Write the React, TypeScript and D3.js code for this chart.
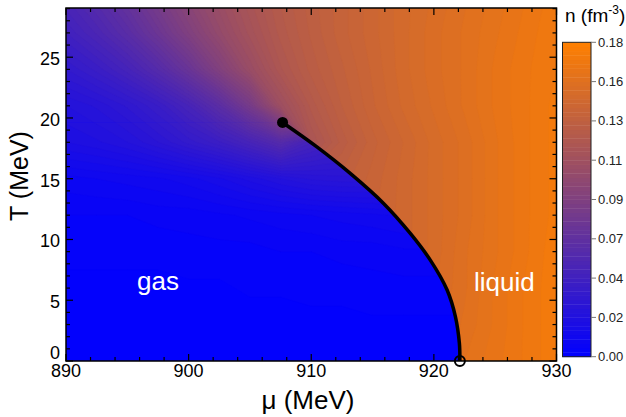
import { useEffect, useRef } from "react";
import * as d3 from "d3";

// axis ticks
const muMajor = [890, 900, 910, 920, 930];
const tMajor = [0, 5, 10, 15, 20, 25];

// colour bar
const cbTicks = [0, 0.0225, 0.045, 0.0675, 0.09, 0.1125, 0.135, 0.1575, 0.18];
const cbLabels = ["0.00", "0.02", "0.04", "0.07", "0.09", "0.11", "0.13", "0.16", "0.18"];

// liquid-gas coexistence line (mu, T), from T = 0 up to the critical point
const coexMu = [922.12, 922.08, 921.76, 921.08, 919.71, 918.08, 915.9, 913.18, 910.46, 907.66];
const coexT = [0, 1.46, 3.64, 5.84, 8.3, 10.5, 12.97, 15.44, 17.62, 19.63];

// density n (fm^-3), grid columns = mu, rows = T
const muGrid = [890, 892.5, 895, 897.5, 900, 902.5, 905, 907.5, 910, 912.5, 915, 917.5, 920, 922.5, 925, 927.5, 930];

// liquid / supercritical side
const tL = [0, 3, 6, 9, 12, 15, 18, 21, 24, 27, 30];
const nL = [
  [0.125, 0.127, 0.129, 0.131, 0.133, 0.135, 0.137, 0.139, 0.141, 0.144, 0.147, 0.151, 0.156, 0.16, 0.164, 0.168, 0.172],
  [0.124, 0.126, 0.128, 0.13, 0.132, 0.134, 0.136, 0.138, 0.14, 0.143, 0.146, 0.15, 0.154, 0.158, 0.163, 0.168, 0.172],
  [0.122, 0.124, 0.126, 0.128, 0.13, 0.132, 0.134, 0.136, 0.138, 0.141, 0.144, 0.148, 0.152, 0.157, 0.163, 0.168, 0.172],
  [0.12, 0.122, 0.124, 0.126, 0.128, 0.13, 0.132, 0.134, 0.136, 0.139, 0.142, 0.146, 0.151, 0.157, 0.162, 0.167, 0.172],
  [0.112, 0.115, 0.118, 0.121, 0.124, 0.127, 0.13, 0.133, 0.136, 0.139, 0.142, 0.146, 0.151, 0.156, 0.162, 0.167, 0.171],
  [0.1, 0.104, 0.108, 0.112, 0.116, 0.12, 0.124, 0.128, 0.132, 0.136, 0.141, 0.146, 0.151, 0.156, 0.162, 0.167, 0.171],
  [0.02, 0.022, 0.025, 0.03, 0.036, 0.042, 0.05, 0.06, 0.12, 0.131, 0.139, 0.145, 0.151, 0.156, 0.162, 0.167, 0.171],
  [0.025, 0.028, 0.033, 0.04, 0.05, 0.064, 0.083, 0.111, 0.126, 0.135, 0.142, 0.148, 0.153, 0.158, 0.163, 0.167, 0.171],
  [0.035, 0.041, 0.049, 0.06, 0.074, 0.091, 0.108, 0.122, 0.131, 0.137, 0.143, 0.149, 0.154, 0.158, 0.163, 0.167, 0.17],
  [0.045, 0.053, 0.063, 0.076, 0.09, 0.104, 0.116, 0.126, 0.133, 0.139, 0.144, 0.149, 0.154, 0.158, 0.162, 0.166, 0.17],
  [0.053, 0.062, 0.073, 0.086, 0.099, 0.11, 0.12, 0.128, 0.134, 0.139, 0.144, 0.149, 0.153, 0.157, 0.161, 0.165, 0.169],
];

// gas side (rows at 18 and 21 match the supercritical values above the line)
const tG = [0, 3, 6, 9, 12, 15, 18, 21];
const nG = [
  [0, 0, 0, 0, 0, 0, 0, 0, 0, 0, 0, 0, 0, 0, 0, 0, 0],
  [0.001, 0.001, 0.001, 0.001, 0.001, 0.001, 0.001, 0.001, 0.002, 0.002, 0.002, 0.002, 0.002, 0.002, 0.002, 0.002, 0.002],
  [0.002, 0.002, 0.002, 0.002, 0.002, 0.002, 0.003, 0.003, 0.003, 0.003, 0.004, 0.004, 0.004, 0.004, 0.004, 0.004, 0.004],
  [0.003, 0.003, 0.003, 0.003, 0.004, 0.004, 0.004, 0.005, 0.005, 0.006, 0.006, 0.007, 0.007, 0.007, 0.007, 0.007, 0.007],
  [0.005, 0.005, 0.005, 0.006, 0.006, 0.007, 0.008, 0.009, 0.01, 0.011, 0.012, 0.013, 0.013, 0.013, 0.013, 0.013, 0.013],
  [0.009, 0.01, 0.011, 0.012, 0.014, 0.017, 0.021, 0.025, 0.028, 0.029, 0.029, 0.029, 0.029, 0.029, 0.029, 0.029, 0.029],
  [0.02, 0.022, 0.025, 0.03, 0.036, 0.042, 0.05, 0.06, 0.048, 0.042, 0.042, 0.042, 0.042, 0.042, 0.042, 0.042, 0.042],
  [0.025, 0.028, 0.033, 0.04, 0.05, 0.064, 0.083, 0.111, 0.126, 0.135, 0.142, 0.148, 0.153, 0.158, 0.163, 0.167, 0.171],
];

const W = 626;
const H = 417;
const left = 66;
const right = 556.5;
const top = 8;
const bottom = 361;
const font = "'Liberation Sans', Arial, Helvetica, sans-serif";

export default function App() {
  const ref = useRef<SVGSVGElement>(null);

  useEffect(() => {
    const svg = d3.select(ref.current);
    svg.selectAll("*").remove();

    const x = d3.scaleLinear().domain([890, 930]).range([left, right]);
    const y = d3.scaleLinear().domain([0, 29.05]).range([bottom, top]);

    const step = 0.0025;
    const levels = d3.range(0, 0.18, step);
    const color = d3
      .scaleLinear<string>()
      .domain([0, 0.18])
      .range(["#0000ff", "#ff8000"])
      .clamp(true);

    const defs = svg.append("defs");
    defs
      .append("clipPath")
      .attr("id", "plotClip")
      .append("rect")
      .attr("x", left)
      .attr("y", top)
      .attr("width", right - left)
      .attr("height", bottom - top);

    const line = d3
      .line<number>()
      .x((d, i) => x(coexMu[i]))
      .y((d, i) => y(coexT[i]))
      .curve(d3.curveCatmullRom.alpha(0.5));
    const coexPath = line(coexT) as string;
    const tc = coexT[coexT.length - 1];

    defs
      .append("clipPath")
      .attr("id", "gasClip")
      .append("path")
      .attr(
        "d",
        coexPath +
          `L${x(885)},${y(tc)}L${x(885)},${bottom + 10}L${x(coexMu[0])},${bottom + 10}Z`
      );

    function field(g, mus, ts, rows) {
      const nx = mus.length;
      const ny = ts.length;
      const dmu = mus[1] - mus[0];
      const dt = ts[1] - ts[0];
      const contours = d3.contours().size([nx, ny]).thresholds(levels)(rows.flat());
      const path = d3.geoPath(
        d3.geoTransform({
          point: function (px, py) {
            this.stream.point(x(mus[0] + (px - 0.5) * dmu), y(ts[0] + (py - 0.5) * dt));
          },
        })
      );
      g.selectAll("path")
        .data(contours)
        .join("path")
        .attr("d", path)
        .attr("fill", (d) => color(d.value + step / 2))
        .attr("stroke", (d) => color(d.value + step / 2))
        .attr("stroke-width", 0.3);
    }

    const plot = svg.append("g").attr("clip-path", "url(#plotClip)");
    field(plot.append("g"), muGrid, tL, nL);
    field(plot.append("g").attr("clip-path", "url(#gasClip)"), muGrid, tG, nG);

    // coexistence line and end points
    plot
      .append("path")
      .attr("d", coexPath)
      .attr("fill", "none")
      .attr("stroke", "#000")
      .attr("stroke-width", 3.5);
    svg
      .append("circle")
      .attr("cx", x(coexMu[coexMu.length - 1]))
      .attr("cy", y(tc))
      .attr("r", 5.5)
      .attr("fill", "#000");
    svg
      .append("circle")
      .attr("cx", x(coexMu[0]))
      .attr("cy", y(coexT[0]))
      .attr("r", 5)
      .attr("fill", "none")
      .attr("stroke", "#000")
      .attr("stroke-width", 2);

    // frame and inward ticks on all sides
    const ax = svg.append("g").attr("stroke", "#000").attr("stroke-width", 1.2);
    const muMinor = d3.range(890, 930.1, 2);
    const tMinor = d3.range(0, 29.1, 1);
    muMinor.forEach((m) => {
      const len = muMajor.includes(m) ? 7 : 4;
      ax.append("line").attr("x1", x(m)).attr("x2", x(m)).attr("y1", bottom).attr("y2", bottom - len);
      ax.append("line").attr("x1", x(m)).attr("x2", x(m)).attr("y1", top).attr("y2", top + len);
    });
    tMinor.forEach((t) => {
      const len = tMajor.includes(t) ? 7 : 4;
      ax.append("line").attr("x1", left).attr("x2", left + len).attr("y1", y(t)).attr("y2", y(t));
      ax.append("line").attr("x1", right).attr("x2", right - len).attr("y1", y(t)).attr("y2", y(t));
    });
    svg
      .append("rect")
      .attr("x", left)
      .attr("y", top)
      .attr("width", right - left)
      .attr("height", bottom - top)
      .attr("fill", "none")
      .attr("stroke", "#000")
      .attr("stroke-width", 1.5);

    const txt = svg.append("g").attr("font-family", font).attr("fill", "#000");
    muMajor.forEach((m) => {
      txt.append("text").attr("x", x(m)).attr("y", 377).attr("text-anchor", "middle").attr("font-size", 18).text(m);
    });
    tMajor.forEach((t) => {
      txt
        .append("text")
        .attr("x", 60)
        .attr("y", t === 0 ? y(t) - 2 : y(t) + 8)
        .attr("text-anchor", "end")
        .attr("font-size", 18)
        .text(t);
    });
    txt
      .append("text")
      .attr("x", 308)
      .attr("y", 409)
      .attr("text-anchor", "middle")
      .attr("font-size", 26)
      .text("μ (MeV)");
    txt
      .append("text")
      .attr("transform", "translate(28,176) rotate(-90)")
      .attr("text-anchor", "middle")
      .attr("font-size", 25)
      .text("T (MeV)");

    txt.append("text").attr("x", 137).attr("y", 290).attr("font-size", 26).attr("fill", "#fff").text("gas");
    txt.append("text").attr("x", 474).attr("y", 291).attr("font-size", 26).attr("fill", "#fff").text("liquid");

    // colour bar
    const cbL = 562.5;
    const cbR = 591;
    const cb = d3.scaleLinear().domain([0, 0.18]).range([356.7, 42.3]);
    const bar = svg.append("g");
    levels.forEach((lv) => {
      bar
        .append("rect")
        .attr("x", cbL)
        .attr("width", cbR - cbL)
        .attr("y", cb(lv + step))
        .attr("height", cb(lv) - cb(lv + step) + 0.4)
        .attr("fill", color(lv + step / 2));
    });
    bar
      .append("rect")
      .attr("x", cbL)
      .attr("y", cb(0.18))
      .attr("width", cbR - cbL)
      .attr("height", cb(0) - cb(0.18))
      .attr("fill", "none")
      .attr("stroke", "#222")
      .attr("stroke-width", 1);
    cbTicks.forEach((v, i) => {
      bar
        .append("line")
        .attr("x1", cbR)
        .attr("x2", cbR + 5)
        .attr("y1", cb(v))
        .attr("y2", cb(v))
        .attr("stroke", "#777")
        .attr("stroke-width", 1);
      txt
        .append("text")
        .attr("x", 598)
        .attr("y", cb(v) + 4.5)
        .attr("font-size", 13)
        .attr("fill", "#222")
        .text(cbLabels[i]);
    });
    const title = txt.append("text").attr("x", 565).attr("y", 22).attr("font-size", 19);
    title.append("tspan").text("n (fm");
    title.append("tspan").attr("font-size", 12).attr("dy", -8).text("-3");
    title.append("tspan").attr("dy", 8).text(")");
  }, []);

  return (
    <svg
      ref={ref}
      width={W}
      height={H}
      style={{ position: "absolute", left: 0, top: 0, background: "#fff" }}
    />
  );
}
